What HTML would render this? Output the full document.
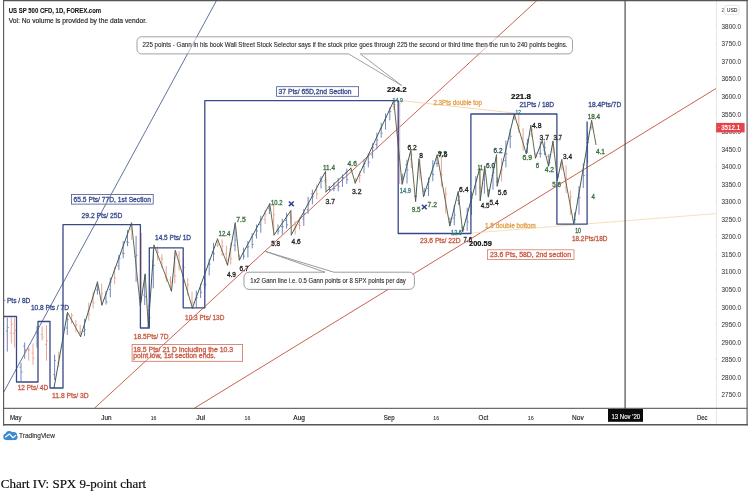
<!DOCTYPE html>
<html><head><meta charset="utf-8"><title>Chart IV: SPX 9-point chart</title>
<style>
html,body{margin:0;padding:0;background:#fff;}
body{width:750px;height:494px;overflow:hidden;font-family:"Liberation Sans",sans-serif;}
svg text{font-family:"Liberation Sans",sans-serif;}
svg{will-change:transform;transform:translateZ(0);}
</style></head>
<body>
<svg width="750" height="494" viewBox="0 0 750 494" style="display:block">
<rect x="0" y="0" width="750" height="494" fill="#ffffff"/>
<line x1="716.5" y1="1.0" x2="716.5" y2="424.0" stroke="#e6e6e6" stroke-width="1"/>
<line x1="3.5" y1="392.5" x2="216.8" y2="0.0" stroke="#425a8e" stroke-width="0.85"/>
<line x1="94.7" y1="408.0" x2="537.5" y2="0.0" stroke="#cb6250" stroke-width="1.0"/>
<line x1="194.7" y1="408.0" x2="716.0" y2="88.5" stroke="#cb6250" stroke-width="1.0"/>
<line x1="403.0" y1="100.8" x2="519.0" y2="113.6" stroke="#f1cfa0" stroke-width="0.8"/>
<line x1="466.0" y1="233.5" x2="716.0" y2="213.6" stroke="#f0d9a8" stroke-width="0.8"/>
<line x1="7.3" y1="317.8" x2="7.3" y2="351.6" stroke="#6478b6" stroke-width="0.9"/>
<line x1="5.8" y1="331.1" x2="7.3" y2="331.1" stroke="#6478b6" stroke-width="0.8"/>
<line x1="7.3" y1="327.6" x2="8.8" y2="327.6" stroke="#6478b6" stroke-width="0.8"/>
<line x1="11.3" y1="317.8" x2="11.3" y2="343.5" stroke="#e89c8a" stroke-width="0.9"/>
<line x1="9.8" y1="333.0" x2="11.3" y2="333.0" stroke="#e89c8a" stroke-width="0.8"/>
<line x1="11.3" y1="324.1" x2="12.8" y2="324.1" stroke="#e89c8a" stroke-width="0.8"/>
<line x1="14.4" y1="318.0" x2="14.4" y2="347.6" stroke="#e89c8a" stroke-width="0.9"/>
<line x1="12.9" y1="333.4" x2="14.4" y2="333.4" stroke="#e89c8a" stroke-width="0.8"/>
<line x1="14.4" y1="330.4" x2="15.9" y2="330.4" stroke="#e89c8a" stroke-width="0.8"/>
<line x1="21.0" y1="362.8" x2="21.0" y2="381.0" stroke="#6478b6" stroke-width="0.9"/>
<line x1="19.5" y1="367.1" x2="21.0" y2="367.1" stroke="#6478b6" stroke-width="0.8"/>
<line x1="21.0" y1="372.0" x2="22.5" y2="372.0" stroke="#6478b6" stroke-width="0.8"/>
<line x1="24.7" y1="342.5" x2="24.7" y2="358.7" stroke="#6478b6" stroke-width="0.9"/>
<line x1="23.2" y1="346.1" x2="24.7" y2="346.1" stroke="#6478b6" stroke-width="0.8"/>
<line x1="24.7" y1="350.0" x2="26.2" y2="350.0" stroke="#6478b6" stroke-width="0.8"/>
<line x1="28.7" y1="346.6" x2="28.7" y2="360.7" stroke="#e89c8a" stroke-width="0.9"/>
<line x1="27.2" y1="350.0" x2="28.7" y2="350.0" stroke="#e89c8a" stroke-width="0.8"/>
<line x1="28.7" y1="350.2" x2="30.2" y2="350.2" stroke="#e89c8a" stroke-width="0.8"/>
<line x1="33.0" y1="343.5" x2="33.0" y2="364.8" stroke="#e89c8a" stroke-width="0.9"/>
<line x1="31.5" y1="353.2" x2="33.0" y2="353.2" stroke="#e89c8a" stroke-width="0.8"/>
<line x1="33.0" y1="358.3" x2="34.5" y2="358.3" stroke="#e89c8a" stroke-width="0.8"/>
<line x1="37.0" y1="326.0" x2="37.0" y2="347.6" stroke="#6478b6" stroke-width="0.9"/>
<line x1="35.5" y1="331.9" x2="37.0" y2="331.9" stroke="#6478b6" stroke-width="0.8"/>
<line x1="37.0" y1="333.2" x2="38.5" y2="333.2" stroke="#6478b6" stroke-width="0.8"/>
<line x1="42.1" y1="326.3" x2="42.1" y2="340.5" stroke="#e89c8a" stroke-width="0.9"/>
<line x1="40.6" y1="334.5" x2="42.1" y2="334.5" stroke="#e89c8a" stroke-width="0.8"/>
<line x1="42.1" y1="337.2" x2="43.6" y2="337.2" stroke="#e89c8a" stroke-width="0.8"/>
<line x1="46.5" y1="325.3" x2="46.5" y2="360.7" stroke="#e89c8a" stroke-width="0.9"/>
<line x1="45.0" y1="344.6" x2="46.5" y2="344.6" stroke="#e89c8a" stroke-width="0.8"/>
<line x1="46.5" y1="340.8" x2="48.0" y2="340.8" stroke="#e89c8a" stroke-width="0.8"/>
<line x1="54.6" y1="354.6" x2="54.6" y2="380.0" stroke="#6478b6" stroke-width="0.9"/>
<line x1="53.1" y1="374.6" x2="54.6" y2="374.6" stroke="#6478b6" stroke-width="0.8"/>
<line x1="54.6" y1="360.4" x2="56.1" y2="360.4" stroke="#6478b6" stroke-width="0.8"/>
<line x1="58.7" y1="351.6" x2="58.7" y2="366.8" stroke="#e89c8a" stroke-width="0.9"/>
<line x1="57.2" y1="362.5" x2="58.7" y2="362.5" stroke="#e89c8a" stroke-width="0.8"/>
<line x1="58.7" y1="357.3" x2="60.2" y2="357.3" stroke="#e89c8a" stroke-width="0.8"/>
<line x1="67.3" y1="313.0" x2="67.3" y2="334.8" stroke="#6478b6" stroke-width="0.9"/>
<line x1="65.8" y1="328.0" x2="67.3" y2="328.0" stroke="#6478b6" stroke-width="0.8"/>
<line x1="67.3" y1="319.7" x2="68.8" y2="319.7" stroke="#6478b6" stroke-width="0.8"/>
<line x1="71.6" y1="313.0" x2="71.6" y2="323.5" stroke="#e89c8a" stroke-width="0.9"/>
<line x1="70.1" y1="318.6" x2="71.6" y2="318.6" stroke="#e89c8a" stroke-width="0.8"/>
<line x1="71.6" y1="315.5" x2="73.1" y2="315.5" stroke="#e89c8a" stroke-width="0.8"/>
<line x1="75.9" y1="320.1" x2="75.9" y2="332.3" stroke="#e89c8a" stroke-width="0.9"/>
<line x1="74.4" y1="325.7" x2="75.9" y2="325.7" stroke="#e89c8a" stroke-width="0.8"/>
<line x1="75.9" y1="324.9" x2="77.4" y2="324.9" stroke="#e89c8a" stroke-width="0.8"/>
<line x1="80.2" y1="325.0" x2="80.2" y2="336.1" stroke="#e89c8a" stroke-width="0.9"/>
<line x1="78.7" y1="332.5" x2="80.2" y2="332.5" stroke="#e89c8a" stroke-width="0.8"/>
<line x1="80.2" y1="331.9" x2="81.7" y2="331.9" stroke="#e89c8a" stroke-width="0.8"/>
<line x1="84.5" y1="318.9" x2="84.5" y2="336.1" stroke="#6478b6" stroke-width="0.9"/>
<line x1="83.0" y1="331.4" x2="84.5" y2="331.4" stroke="#6478b6" stroke-width="0.8"/>
<line x1="84.5" y1="329.9" x2="86.0" y2="329.9" stroke="#6478b6" stroke-width="0.8"/>
<line x1="88.8" y1="302.7" x2="88.8" y2="320.6" stroke="#e89c8a" stroke-width="0.9"/>
<line x1="87.3" y1="310.8" x2="88.8" y2="310.8" stroke="#e89c8a" stroke-width="0.8"/>
<line x1="88.8" y1="314.4" x2="90.3" y2="314.4" stroke="#e89c8a" stroke-width="0.8"/>
<line x1="93.1" y1="291.7" x2="93.1" y2="308.6" stroke="#e89c8a" stroke-width="0.9"/>
<line x1="91.6" y1="301.8" x2="93.1" y2="301.8" stroke="#e89c8a" stroke-width="0.8"/>
<line x1="93.1" y1="302.8" x2="94.6" y2="302.8" stroke="#e89c8a" stroke-width="0.8"/>
<line x1="97.4" y1="282.5" x2="97.4" y2="294.7" stroke="#6478b6" stroke-width="0.9"/>
<line x1="95.9" y1="290.0" x2="97.4" y2="290.0" stroke="#6478b6" stroke-width="0.8"/>
<line x1="97.4" y1="289.3" x2="98.9" y2="289.3" stroke="#6478b6" stroke-width="0.8"/>
<line x1="101.7" y1="283.6" x2="101.7" y2="304.5" stroke="#e89c8a" stroke-width="0.9"/>
<line x1="100.2" y1="299.6" x2="101.7" y2="299.6" stroke="#e89c8a" stroke-width="0.8"/>
<line x1="101.7" y1="293.7" x2="103.2" y2="293.7" stroke="#e89c8a" stroke-width="0.8"/>
<line x1="106.0" y1="291.1" x2="106.0" y2="304.5" stroke="#6478b6" stroke-width="0.9"/>
<line x1="104.5" y1="299.0" x2="106.0" y2="299.0" stroke="#6478b6" stroke-width="0.8"/>
<line x1="106.0" y1="301.8" x2="107.5" y2="301.8" stroke="#6478b6" stroke-width="0.8"/>
<line x1="110.3" y1="277.7" x2="110.3" y2="297.4" stroke="#6478b6" stroke-width="0.9"/>
<line x1="108.8" y1="289.5" x2="110.3" y2="289.5" stroke="#6478b6" stroke-width="0.8"/>
<line x1="110.3" y1="281.9" x2="111.8" y2="281.9" stroke="#6478b6" stroke-width="0.8"/>
<line x1="114.6" y1="266.9" x2="114.6" y2="284.2" stroke="#e89c8a" stroke-width="0.9"/>
<line x1="113.1" y1="270.9" x2="114.6" y2="270.9" stroke="#e89c8a" stroke-width="0.8"/>
<line x1="114.6" y1="278.3" x2="116.1" y2="278.3" stroke="#e89c8a" stroke-width="0.8"/>
<line x1="118.9" y1="255.0" x2="118.9" y2="270.1" stroke="#6478b6" stroke-width="0.9"/>
<line x1="117.4" y1="265.9" x2="118.9" y2="265.9" stroke="#6478b6" stroke-width="0.8"/>
<line x1="118.9" y1="258.7" x2="120.4" y2="258.7" stroke="#6478b6" stroke-width="0.8"/>
<line x1="123.2" y1="241.1" x2="123.2" y2="258.3" stroke="#6478b6" stroke-width="0.9"/>
<line x1="121.7" y1="253.0" x2="123.2" y2="253.0" stroke="#6478b6" stroke-width="0.8"/>
<line x1="123.2" y1="253.5" x2="124.7" y2="253.5" stroke="#6478b6" stroke-width="0.8"/>
<line x1="127.5" y1="230.1" x2="127.5" y2="246.2" stroke="#6478b6" stroke-width="0.9"/>
<line x1="126.0" y1="241.9" x2="127.5" y2="241.9" stroke="#6478b6" stroke-width="0.8"/>
<line x1="127.5" y1="242.6" x2="129.0" y2="242.6" stroke="#6478b6" stroke-width="0.8"/>
<line x1="131.8" y1="223.5" x2="131.8" y2="239.9" stroke="#e89c8a" stroke-width="0.9"/>
<line x1="130.3" y1="229.1" x2="131.8" y2="229.1" stroke="#e89c8a" stroke-width="0.8"/>
<line x1="131.8" y1="231.6" x2="133.3" y2="231.6" stroke="#e89c8a" stroke-width="0.8"/>
<line x1="136.1" y1="235.9" x2="136.1" y2="281.8" stroke="#6478b6" stroke-width="0.9"/>
<line x1="134.6" y1="256.6" x2="136.1" y2="256.6" stroke="#6478b6" stroke-width="0.8"/>
<line x1="136.1" y1="255.2" x2="137.6" y2="255.2" stroke="#6478b6" stroke-width="0.8"/>
<line x1="140.4" y1="291.4" x2="140.4" y2="305.0" stroke="#6478b6" stroke-width="0.9"/>
<line x1="138.9" y1="298.3" x2="140.4" y2="298.3" stroke="#6478b6" stroke-width="0.8"/>
<line x1="140.4" y1="299.2" x2="141.9" y2="299.2" stroke="#6478b6" stroke-width="0.8"/>
<line x1="144.7" y1="274.7" x2="144.7" y2="305.0" stroke="#6478b6" stroke-width="0.9"/>
<line x1="143.2" y1="294.9" x2="144.7" y2="294.9" stroke="#6478b6" stroke-width="0.8"/>
<line x1="144.7" y1="296.7" x2="146.2" y2="296.7" stroke="#6478b6" stroke-width="0.8"/>
<line x1="149.0" y1="304.7" x2="149.0" y2="326.5" stroke="#6478b6" stroke-width="0.9"/>
<line x1="147.5" y1="310.4" x2="149.0" y2="310.4" stroke="#6478b6" stroke-width="0.8"/>
<line x1="149.0" y1="317.4" x2="150.5" y2="317.4" stroke="#6478b6" stroke-width="0.8"/>
<line x1="153.3" y1="249.8" x2="153.3" y2="288.3" stroke="#6478b6" stroke-width="0.9"/>
<line x1="151.8" y1="261.3" x2="153.3" y2="261.3" stroke="#6478b6" stroke-width="0.8"/>
<line x1="153.3" y1="265.4" x2="154.8" y2="265.4" stroke="#6478b6" stroke-width="0.8"/>
<line x1="157.6" y1="246.5" x2="157.6" y2="260.5" stroke="#e89c8a" stroke-width="0.9"/>
<line x1="156.1" y1="250.1" x2="157.6" y2="250.1" stroke="#e89c8a" stroke-width="0.8"/>
<line x1="157.6" y1="252.3" x2="159.1" y2="252.3" stroke="#e89c8a" stroke-width="0.8"/>
<line x1="161.9" y1="254.2" x2="161.9" y2="268.1" stroke="#e89c8a" stroke-width="0.9"/>
<line x1="160.4" y1="258.2" x2="161.9" y2="258.2" stroke="#e89c8a" stroke-width="0.8"/>
<line x1="161.9" y1="259.1" x2="163.4" y2="259.1" stroke="#e89c8a" stroke-width="0.8"/>
<line x1="166.2" y1="266.1" x2="166.2" y2="282.1" stroke="#e89c8a" stroke-width="0.9"/>
<line x1="164.7" y1="277.4" x2="166.2" y2="277.4" stroke="#e89c8a" stroke-width="0.8"/>
<line x1="166.2" y1="278.8" x2="167.7" y2="278.8" stroke="#e89c8a" stroke-width="0.8"/>
<line x1="170.5" y1="276.3" x2="170.5" y2="290.5" stroke="#e89c8a" stroke-width="0.9"/>
<line x1="169.0" y1="280.0" x2="170.5" y2="280.0" stroke="#e89c8a" stroke-width="0.8"/>
<line x1="170.5" y1="282.0" x2="172.0" y2="282.0" stroke="#e89c8a" stroke-width="0.8"/>
<line x1="174.8" y1="251.0" x2="174.8" y2="283.3" stroke="#e89c8a" stroke-width="0.9"/>
<line x1="173.3" y1="257.9" x2="174.8" y2="257.9" stroke="#e89c8a" stroke-width="0.8"/>
<line x1="174.8" y1="275.9" x2="176.3" y2="275.9" stroke="#e89c8a" stroke-width="0.8"/>
<line x1="179.1" y1="251.0" x2="179.1" y2="270.6" stroke="#e89c8a" stroke-width="0.9"/>
<line x1="177.6" y1="255.2" x2="179.1" y2="255.2" stroke="#e89c8a" stroke-width="0.8"/>
<line x1="179.1" y1="261.1" x2="180.6" y2="261.1" stroke="#e89c8a" stroke-width="0.8"/>
<line x1="183.4" y1="257.7" x2="183.4" y2="281.4" stroke="#e89c8a" stroke-width="0.9"/>
<line x1="181.9" y1="266.1" x2="183.4" y2="266.1" stroke="#e89c8a" stroke-width="0.8"/>
<line x1="183.4" y1="267.6" x2="184.9" y2="267.6" stroke="#e89c8a" stroke-width="0.8"/>
<line x1="187.7" y1="277.9" x2="187.7" y2="295.4" stroke="#e89c8a" stroke-width="0.9"/>
<line x1="186.2" y1="289.6" x2="187.7" y2="289.6" stroke="#e89c8a" stroke-width="0.8"/>
<line x1="187.7" y1="284.9" x2="189.2" y2="284.9" stroke="#e89c8a" stroke-width="0.8"/>
<line x1="192.0" y1="291.9" x2="192.0" y2="307.5" stroke="#e89c8a" stroke-width="0.9"/>
<line x1="190.5" y1="303.0" x2="192.0" y2="303.0" stroke="#e89c8a" stroke-width="0.8"/>
<line x1="192.0" y1="302.6" x2="193.5" y2="302.6" stroke="#e89c8a" stroke-width="0.8"/>
<line x1="196.3" y1="290.6" x2="196.3" y2="307.5" stroke="#6478b6" stroke-width="0.9"/>
<line x1="194.8" y1="299.2" x2="196.3" y2="299.2" stroke="#6478b6" stroke-width="0.8"/>
<line x1="196.3" y1="297.6" x2="197.8" y2="297.6" stroke="#6478b6" stroke-width="0.8"/>
<line x1="200.6" y1="283.6" x2="200.6" y2="298.0" stroke="#6478b6" stroke-width="0.9"/>
<line x1="199.1" y1="288.7" x2="200.6" y2="288.7" stroke="#6478b6" stroke-width="0.8"/>
<line x1="200.6" y1="292.4" x2="202.1" y2="292.4" stroke="#6478b6" stroke-width="0.8"/>
<line x1="204.9" y1="268.4" x2="204.9" y2="288.9" stroke="#6478b6" stroke-width="0.9"/>
<line x1="203.4" y1="284.7" x2="204.9" y2="284.7" stroke="#6478b6" stroke-width="0.8"/>
<line x1="204.9" y1="284.3" x2="206.4" y2="284.3" stroke="#6478b6" stroke-width="0.8"/>
<line x1="209.2" y1="258.7" x2="209.2" y2="275.3" stroke="#6478b6" stroke-width="0.9"/>
<line x1="207.7" y1="264.0" x2="209.2" y2="264.0" stroke="#6478b6" stroke-width="0.8"/>
<line x1="209.2" y1="264.1" x2="210.7" y2="264.1" stroke="#6478b6" stroke-width="0.8"/>
<line x1="213.5" y1="242.9" x2="213.5" y2="261.2" stroke="#6478b6" stroke-width="0.9"/>
<line x1="212.0" y1="251.8" x2="213.5" y2="251.8" stroke="#6478b6" stroke-width="0.8"/>
<line x1="213.5" y1="253.7" x2="215.0" y2="253.7" stroke="#6478b6" stroke-width="0.8"/>
<line x1="217.8" y1="239.5" x2="217.8" y2="247.1" stroke="#e89c8a" stroke-width="0.9"/>
<line x1="216.3" y1="245.2" x2="217.8" y2="245.2" stroke="#e89c8a" stroke-width="0.8"/>
<line x1="217.8" y1="244.6" x2="219.3" y2="244.6" stroke="#e89c8a" stroke-width="0.8"/>
<line x1="222.1" y1="239.5" x2="222.1" y2="255.9" stroke="#e89c8a" stroke-width="0.9"/>
<line x1="220.6" y1="250.6" x2="222.1" y2="250.6" stroke="#e89c8a" stroke-width="0.8"/>
<line x1="222.1" y1="246.1" x2="223.6" y2="246.1" stroke="#e89c8a" stroke-width="0.8"/>
<line x1="226.4" y1="245.6" x2="226.4" y2="264.3" stroke="#e89c8a" stroke-width="0.9"/>
<line x1="224.9" y1="253.9" x2="226.4" y2="253.9" stroke="#e89c8a" stroke-width="0.8"/>
<line x1="226.4" y1="260.0" x2="227.9" y2="260.0" stroke="#e89c8a" stroke-width="0.8"/>
<line x1="230.7" y1="242.8" x2="230.7" y2="264.5" stroke="#e89c8a" stroke-width="0.9"/>
<line x1="229.2" y1="249.1" x2="230.7" y2="249.1" stroke="#e89c8a" stroke-width="0.8"/>
<line x1="230.7" y1="258.9" x2="232.2" y2="258.9" stroke="#e89c8a" stroke-width="0.8"/>
<line x1="235.0" y1="223.5" x2="235.0" y2="251.2" stroke="#6478b6" stroke-width="0.9"/>
<line x1="233.5" y1="245.3" x2="235.0" y2="245.3" stroke="#6478b6" stroke-width="0.8"/>
<line x1="235.0" y1="240.0" x2="236.5" y2="240.0" stroke="#6478b6" stroke-width="0.8"/>
<line x1="239.3" y1="254.8" x2="239.3" y2="260.0" stroke="#e89c8a" stroke-width="0.9"/>
<line x1="237.8" y1="255.9" x2="239.3" y2="255.9" stroke="#e89c8a" stroke-width="0.8"/>
<line x1="239.3" y1="258.9" x2="240.8" y2="258.9" stroke="#e89c8a" stroke-width="0.8"/>
<line x1="243.6" y1="247.7" x2="243.6" y2="259.5" stroke="#6478b6" stroke-width="0.9"/>
<line x1="242.1" y1="253.2" x2="243.6" y2="253.2" stroke="#6478b6" stroke-width="0.8"/>
<line x1="243.6" y1="256.2" x2="245.1" y2="256.2" stroke="#6478b6" stroke-width="0.8"/>
<line x1="247.9" y1="241.1" x2="247.9" y2="257.6" stroke="#6478b6" stroke-width="0.9"/>
<line x1="246.4" y1="247.3" x2="247.9" y2="247.3" stroke="#6478b6" stroke-width="0.8"/>
<line x1="247.9" y1="246.8" x2="249.4" y2="246.8" stroke="#6478b6" stroke-width="0.8"/>
<line x1="252.2" y1="233.2" x2="252.2" y2="248.4" stroke="#6478b6" stroke-width="0.9"/>
<line x1="250.7" y1="237.4" x2="252.2" y2="237.4" stroke="#6478b6" stroke-width="0.8"/>
<line x1="252.2" y1="244.5" x2="253.7" y2="244.5" stroke="#6478b6" stroke-width="0.8"/>
<line x1="256.5" y1="224.7" x2="256.5" y2="238.6" stroke="#6478b6" stroke-width="0.9"/>
<line x1="255.0" y1="235.0" x2="256.5" y2="235.0" stroke="#6478b6" stroke-width="0.8"/>
<line x1="256.5" y1="231.0" x2="258.0" y2="231.0" stroke="#6478b6" stroke-width="0.8"/>
<line x1="260.8" y1="215.7" x2="260.8" y2="232.7" stroke="#6478b6" stroke-width="0.9"/>
<line x1="259.3" y1="224.5" x2="260.8" y2="224.5" stroke="#6478b6" stroke-width="0.8"/>
<line x1="260.8" y1="219.3" x2="262.3" y2="219.3" stroke="#6478b6" stroke-width="0.8"/>
<line x1="265.1" y1="209.9" x2="265.1" y2="224.2" stroke="#e89c8a" stroke-width="0.9"/>
<line x1="263.6" y1="219.6" x2="265.1" y2="219.6" stroke="#e89c8a" stroke-width="0.8"/>
<line x1="265.1" y1="214.2" x2="266.6" y2="214.2" stroke="#e89c8a" stroke-width="0.8"/>
<line x1="269.4" y1="204.2" x2="269.4" y2="214.1" stroke="#6478b6" stroke-width="0.9"/>
<line x1="267.9" y1="208.1" x2="269.4" y2="208.1" stroke="#6478b6" stroke-width="0.8"/>
<line x1="269.4" y1="209.2" x2="270.9" y2="209.2" stroke="#6478b6" stroke-width="0.8"/>
<line x1="273.7" y1="204.2" x2="273.7" y2="234.4" stroke="#e89c8a" stroke-width="0.9"/>
<line x1="272.2" y1="220.4" x2="273.7" y2="220.4" stroke="#e89c8a" stroke-width="0.8"/>
<line x1="273.7" y1="214.7" x2="275.2" y2="214.7" stroke="#e89c8a" stroke-width="0.8"/>
<line x1="278.0" y1="224.5" x2="278.0" y2="234.4" stroke="#6478b6" stroke-width="0.9"/>
<line x1="276.5" y1="229.8" x2="278.0" y2="229.8" stroke="#6478b6" stroke-width="0.8"/>
<line x1="278.0" y1="231.0" x2="279.5" y2="231.0" stroke="#6478b6" stroke-width="0.8"/>
<line x1="282.3" y1="218.8" x2="282.3" y2="234.4" stroke="#6478b6" stroke-width="0.9"/>
<line x1="280.8" y1="226.6" x2="282.3" y2="226.6" stroke="#6478b6" stroke-width="0.8"/>
<line x1="282.3" y1="226.7" x2="283.8" y2="226.7" stroke="#6478b6" stroke-width="0.8"/>
<line x1="286.6" y1="212.8" x2="286.6" y2="228.6" stroke="#6478b6" stroke-width="0.9"/>
<line x1="285.1" y1="220.5" x2="286.6" y2="220.5" stroke="#6478b6" stroke-width="0.8"/>
<line x1="286.6" y1="224.9" x2="288.1" y2="224.9" stroke="#6478b6" stroke-width="0.8"/>
<line x1="290.9" y1="211.3" x2="290.9" y2="223.4" stroke="#e89c8a" stroke-width="0.9"/>
<line x1="289.4" y1="215.6" x2="290.9" y2="215.6" stroke="#e89c8a" stroke-width="0.8"/>
<line x1="290.9" y1="217.8" x2="292.4" y2="217.8" stroke="#e89c8a" stroke-width="0.8"/>
<line x1="295.2" y1="221.3" x2="295.2" y2="234.4" stroke="#e89c8a" stroke-width="0.9"/>
<line x1="293.7" y1="224.9" x2="295.2" y2="224.9" stroke="#e89c8a" stroke-width="0.8"/>
<line x1="295.2" y1="227.4" x2="296.7" y2="227.4" stroke="#e89c8a" stroke-width="0.8"/>
<line x1="299.5" y1="217.3" x2="299.5" y2="229.6" stroke="#e89c8a" stroke-width="0.9"/>
<line x1="298.0" y1="224.7" x2="299.5" y2="224.7" stroke="#e89c8a" stroke-width="0.8"/>
<line x1="299.5" y1="225.6" x2="301.0" y2="225.6" stroke="#e89c8a" stroke-width="0.8"/>
<line x1="303.8" y1="208.9" x2="303.8" y2="225.8" stroke="#6478b6" stroke-width="0.9"/>
<line x1="302.3" y1="219.0" x2="303.8" y2="219.0" stroke="#6478b6" stroke-width="0.8"/>
<line x1="303.8" y1="213.7" x2="305.3" y2="213.7" stroke="#6478b6" stroke-width="0.8"/>
<line x1="308.1" y1="196.8" x2="308.1" y2="213.7" stroke="#6478b6" stroke-width="0.9"/>
<line x1="306.6" y1="209.8" x2="308.1" y2="209.8" stroke="#6478b6" stroke-width="0.8"/>
<line x1="308.1" y1="204.2" x2="309.6" y2="204.2" stroke="#6478b6" stroke-width="0.8"/>
<line x1="312.4" y1="189.7" x2="312.4" y2="204.3" stroke="#6478b6" stroke-width="0.9"/>
<line x1="310.9" y1="194.0" x2="312.4" y2="194.0" stroke="#6478b6" stroke-width="0.8"/>
<line x1="312.4" y1="196.4" x2="313.9" y2="196.4" stroke="#6478b6" stroke-width="0.8"/>
<line x1="316.7" y1="184.5" x2="316.7" y2="199.3" stroke="#e89c8a" stroke-width="0.9"/>
<line x1="315.2" y1="190.3" x2="316.7" y2="190.3" stroke="#e89c8a" stroke-width="0.8"/>
<line x1="316.7" y1="193.9" x2="318.2" y2="193.9" stroke="#e89c8a" stroke-width="0.8"/>
<line x1="321.0" y1="176.4" x2="321.0" y2="188.4" stroke="#6478b6" stroke-width="0.9"/>
<line x1="319.5" y1="178.9" x2="321.0" y2="178.9" stroke="#6478b6" stroke-width="0.8"/>
<line x1="321.0" y1="181.2" x2="322.5" y2="181.2" stroke="#6478b6" stroke-width="0.8"/>
<line x1="325.3" y1="172.0" x2="325.3" y2="183.1" stroke="#e89c8a" stroke-width="0.9"/>
<line x1="323.8" y1="180.7" x2="325.3" y2="180.7" stroke="#e89c8a" stroke-width="0.8"/>
<line x1="325.3" y1="179.4" x2="326.8" y2="179.4" stroke="#e89c8a" stroke-width="0.8"/>
<line x1="329.6" y1="185.8" x2="329.6" y2="191.3" stroke="#6478b6" stroke-width="0.9"/>
<line x1="328.1" y1="187.0" x2="329.6" y2="187.0" stroke="#6478b6" stroke-width="0.8"/>
<line x1="329.6" y1="189.5" x2="331.1" y2="189.5" stroke="#6478b6" stroke-width="0.8"/>
<line x1="333.9" y1="182.2" x2="333.9" y2="191.3" stroke="#6478b6" stroke-width="0.9"/>
<line x1="332.4" y1="189.0" x2="333.9" y2="189.0" stroke="#6478b6" stroke-width="0.8"/>
<line x1="333.9" y1="188.5" x2="335.4" y2="188.5" stroke="#6478b6" stroke-width="0.8"/>
<line x1="338.2" y1="178.0" x2="338.2" y2="191.3" stroke="#6478b6" stroke-width="0.9"/>
<line x1="336.7" y1="185.2" x2="338.2" y2="185.2" stroke="#6478b6" stroke-width="0.8"/>
<line x1="338.2" y1="186.3" x2="339.7" y2="186.3" stroke="#6478b6" stroke-width="0.8"/>
<line x1="342.5" y1="174.5" x2="342.5" y2="186.9" stroke="#6478b6" stroke-width="0.9"/>
<line x1="341.0" y1="180.1" x2="342.5" y2="180.1" stroke="#6478b6" stroke-width="0.8"/>
<line x1="342.5" y1="177.5" x2="344.0" y2="177.5" stroke="#6478b6" stroke-width="0.8"/>
<line x1="346.8" y1="168.7" x2="346.8" y2="183.9" stroke="#6478b6" stroke-width="0.9"/>
<line x1="345.3" y1="172.5" x2="346.8" y2="172.5" stroke="#6478b6" stroke-width="0.8"/>
<line x1="346.8" y1="179.6" x2="348.3" y2="179.6" stroke="#6478b6" stroke-width="0.8"/>
<line x1="351.1" y1="168.2" x2="351.1" y2="173.2" stroke="#e89c8a" stroke-width="0.9"/>
<line x1="349.6" y1="170.2" x2="351.1" y2="170.2" stroke="#e89c8a" stroke-width="0.8"/>
<line x1="351.1" y1="170.8" x2="352.6" y2="170.8" stroke="#e89c8a" stroke-width="0.8"/>
<line x1="355.4" y1="177.8" x2="355.4" y2="183.0" stroke="#e89c8a" stroke-width="0.9"/>
<line x1="353.9" y1="180.5" x2="355.4" y2="180.5" stroke="#e89c8a" stroke-width="0.8"/>
<line x1="355.4" y1="179.6" x2="356.9" y2="179.6" stroke="#e89c8a" stroke-width="0.8"/>
<line x1="359.7" y1="171.3" x2="359.7" y2="182.5" stroke="#e89c8a" stroke-width="0.9"/>
<line x1="358.2" y1="174.9" x2="359.7" y2="174.9" stroke="#e89c8a" stroke-width="0.8"/>
<line x1="359.7" y1="175.6" x2="361.2" y2="175.6" stroke="#e89c8a" stroke-width="0.8"/>
<line x1="364.0" y1="159.4" x2="364.0" y2="173.3" stroke="#6478b6" stroke-width="0.9"/>
<line x1="362.5" y1="166.4" x2="364.0" y2="166.4" stroke="#6478b6" stroke-width="0.8"/>
<line x1="364.0" y1="163.7" x2="365.5" y2="163.7" stroke="#6478b6" stroke-width="0.8"/>
<line x1="368.3" y1="153.3" x2="368.3" y2="167.4" stroke="#6478b6" stroke-width="0.9"/>
<line x1="366.8" y1="156.3" x2="368.3" y2="156.3" stroke="#6478b6" stroke-width="0.8"/>
<line x1="368.3" y1="162.3" x2="369.8" y2="162.3" stroke="#6478b6" stroke-width="0.8"/>
<line x1="372.6" y1="143.3" x2="372.6" y2="158.5" stroke="#6478b6" stroke-width="0.9"/>
<line x1="371.1" y1="154.8" x2="372.6" y2="154.8" stroke="#6478b6" stroke-width="0.8"/>
<line x1="372.6" y1="147.3" x2="374.1" y2="147.3" stroke="#6478b6" stroke-width="0.8"/>
<line x1="376.9" y1="132.6" x2="376.9" y2="149.4" stroke="#6478b6" stroke-width="0.9"/>
<line x1="375.4" y1="144.4" x2="376.9" y2="144.4" stroke="#6478b6" stroke-width="0.8"/>
<line x1="376.9" y1="139.9" x2="378.4" y2="139.9" stroke="#6478b6" stroke-width="0.8"/>
<line x1="381.2" y1="122.7" x2="381.2" y2="137.7" stroke="#6478b6" stroke-width="0.9"/>
<line x1="379.7" y1="128.8" x2="381.2" y2="128.8" stroke="#6478b6" stroke-width="0.8"/>
<line x1="381.2" y1="133.2" x2="382.7" y2="133.2" stroke="#6478b6" stroke-width="0.8"/>
<line x1="385.5" y1="113.5" x2="385.5" y2="129.6" stroke="#6478b6" stroke-width="0.9"/>
<line x1="384.0" y1="120.1" x2="385.5" y2="120.1" stroke="#6478b6" stroke-width="0.8"/>
<line x1="385.5" y1="117.2" x2="387.0" y2="117.2" stroke="#6478b6" stroke-width="0.8"/>
<line x1="389.8" y1="107.5" x2="389.8" y2="120.3" stroke="#6478b6" stroke-width="0.9"/>
<line x1="388.3" y1="112.0" x2="389.8" y2="112.0" stroke="#6478b6" stroke-width="0.8"/>
<line x1="389.8" y1="111.3" x2="391.3" y2="111.3" stroke="#6478b6" stroke-width="0.8"/>
<line x1="394.1" y1="101.3" x2="394.1" y2="110.3" stroke="#e89c8a" stroke-width="0.9"/>
<line x1="392.6" y1="106.7" x2="394.1" y2="106.7" stroke="#e89c8a" stroke-width="0.8"/>
<line x1="394.1" y1="104.6" x2="395.6" y2="104.6" stroke="#e89c8a" stroke-width="0.8"/>
<line x1="398.4" y1="119.1" x2="398.4" y2="160.7" stroke="#e89c8a" stroke-width="0.9"/>
<line x1="396.9" y1="131.4" x2="398.4" y2="131.4" stroke="#e89c8a" stroke-width="0.8"/>
<line x1="398.4" y1="138.6" x2="399.9" y2="138.6" stroke="#e89c8a" stroke-width="0.8"/>
<line x1="402.7" y1="173.6" x2="402.7" y2="183.5" stroke="#6478b6" stroke-width="0.9"/>
<line x1="401.2" y1="178.8" x2="402.7" y2="178.8" stroke="#6478b6" stroke-width="0.8"/>
<line x1="402.7" y1="177.0" x2="404.2" y2="177.0" stroke="#6478b6" stroke-width="0.8"/>
<line x1="407.0" y1="159.7" x2="407.0" y2="183.5" stroke="#6478b6" stroke-width="0.9"/>
<line x1="405.5" y1="164.5" x2="407.0" y2="164.5" stroke="#6478b6" stroke-width="0.8"/>
<line x1="407.0" y1="169.9" x2="408.5" y2="169.9" stroke="#6478b6" stroke-width="0.8"/>
<line x1="411.3" y1="151.1" x2="411.3" y2="168.2" stroke="#e89c8a" stroke-width="0.9"/>
<line x1="409.8" y1="159.7" x2="411.3" y2="159.7" stroke="#e89c8a" stroke-width="0.8"/>
<line x1="411.3" y1="154.6" x2="412.8" y2="154.6" stroke="#e89c8a" stroke-width="0.8"/>
<line x1="415.6" y1="195.0" x2="415.6" y2="200.7" stroke="#6478b6" stroke-width="0.9"/>
<line x1="414.1" y1="196.3" x2="415.6" y2="196.3" stroke="#6478b6" stroke-width="0.8"/>
<line x1="415.6" y1="196.2" x2="417.1" y2="196.2" stroke="#6478b6" stroke-width="0.8"/>
<line x1="419.9" y1="159.5" x2="419.9" y2="179.5" stroke="#e89c8a" stroke-width="0.9"/>
<line x1="418.4" y1="169.9" x2="419.9" y2="169.9" stroke="#e89c8a" stroke-width="0.8"/>
<line x1="419.9" y1="172.5" x2="421.4" y2="172.5" stroke="#e89c8a" stroke-width="0.8"/>
<line x1="424.2" y1="187.8" x2="424.2" y2="196.0" stroke="#6478b6" stroke-width="0.9"/>
<line x1="422.7" y1="191.3" x2="424.2" y2="191.3" stroke="#6478b6" stroke-width="0.8"/>
<line x1="424.2" y1="191.0" x2="425.7" y2="191.0" stroke="#6478b6" stroke-width="0.8"/>
<line x1="428.5" y1="177.7" x2="428.5" y2="196.0" stroke="#6478b6" stroke-width="0.9"/>
<line x1="427.0" y1="188.4" x2="428.5" y2="188.4" stroke="#6478b6" stroke-width="0.8"/>
<line x1="428.5" y1="181.9" x2="430.0" y2="181.9" stroke="#6478b6" stroke-width="0.8"/>
<line x1="432.8" y1="160.2" x2="432.8" y2="181.2" stroke="#6478b6" stroke-width="0.9"/>
<line x1="431.3" y1="173.6" x2="432.8" y2="173.6" stroke="#6478b6" stroke-width="0.8"/>
<line x1="432.8" y1="174.6" x2="434.3" y2="174.6" stroke="#6478b6" stroke-width="0.8"/>
<line x1="437.1" y1="155.5" x2="437.1" y2="166.9" stroke="#6478b6" stroke-width="0.9"/>
<line x1="435.6" y1="163.5" x2="437.1" y2="163.5" stroke="#6478b6" stroke-width="0.8"/>
<line x1="437.1" y1="163.3" x2="438.6" y2="163.3" stroke="#6478b6" stroke-width="0.8"/>
<line x1="441.4" y1="155.5" x2="441.4" y2="186.6" stroke="#e89c8a" stroke-width="0.9"/>
<line x1="439.9" y1="174.5" x2="441.4" y2="174.5" stroke="#e89c8a" stroke-width="0.8"/>
<line x1="441.4" y1="174.7" x2="442.9" y2="174.7" stroke="#e89c8a" stroke-width="0.8"/>
<line x1="445.7" y1="187.4" x2="445.7" y2="213.5" stroke="#e89c8a" stroke-width="0.9"/>
<line x1="444.2" y1="198.2" x2="445.7" y2="198.2" stroke="#e89c8a" stroke-width="0.8"/>
<line x1="445.7" y1="194.2" x2="447.2" y2="194.2" stroke="#e89c8a" stroke-width="0.8"/>
<line x1="450.0" y1="217.6" x2="450.0" y2="225.3" stroke="#6478b6" stroke-width="0.9"/>
<line x1="448.5" y1="222.0" x2="450.0" y2="222.0" stroke="#6478b6" stroke-width="0.8"/>
<line x1="450.0" y1="222.3" x2="451.5" y2="222.3" stroke="#6478b6" stroke-width="0.8"/>
<line x1="454.3" y1="204.7" x2="454.3" y2="225.3" stroke="#6478b6" stroke-width="0.9"/>
<line x1="452.8" y1="218.1" x2="454.3" y2="218.1" stroke="#6478b6" stroke-width="0.8"/>
<line x1="454.3" y1="215.0" x2="455.8" y2="215.0" stroke="#6478b6" stroke-width="0.8"/>
<line x1="458.6" y1="192.1" x2="458.6" y2="204.9" stroke="#6478b6" stroke-width="0.9"/>
<line x1="457.1" y1="200.3" x2="458.6" y2="200.3" stroke="#6478b6" stroke-width="0.8"/>
<line x1="458.6" y1="196.6" x2="460.1" y2="196.6" stroke="#6478b6" stroke-width="0.8"/>
<line x1="462.9" y1="225.9" x2="462.9" y2="231.5" stroke="#6478b6" stroke-width="0.9"/>
<line x1="461.4" y1="227.7" x2="462.9" y2="227.7" stroke="#6478b6" stroke-width="0.8"/>
<line x1="462.9" y1="229.5" x2="464.4" y2="229.5" stroke="#6478b6" stroke-width="0.8"/>
<line x1="467.2" y1="207.7" x2="467.2" y2="231.0" stroke="#6478b6" stroke-width="0.9"/>
<line x1="465.7" y1="219.1" x2="467.2" y2="219.1" stroke="#6478b6" stroke-width="0.8"/>
<line x1="467.2" y1="221.9" x2="468.7" y2="221.9" stroke="#6478b6" stroke-width="0.8"/>
<line x1="471.5" y1="191.4" x2="471.5" y2="214.9" stroke="#6478b6" stroke-width="0.9"/>
<line x1="470.0" y1="197.2" x2="471.5" y2="197.2" stroke="#6478b6" stroke-width="0.8"/>
<line x1="471.5" y1="198.2" x2="473.0" y2="198.2" stroke="#6478b6" stroke-width="0.8"/>
<line x1="475.8" y1="176.1" x2="475.8" y2="195.4" stroke="#6478b6" stroke-width="0.9"/>
<line x1="474.3" y1="186.5" x2="475.8" y2="186.5" stroke="#6478b6" stroke-width="0.8"/>
<line x1="475.8" y1="180.1" x2="477.3" y2="180.1" stroke="#6478b6" stroke-width="0.8"/>
<line x1="480.1" y1="168.8" x2="480.1" y2="200.0" stroke="#e89c8a" stroke-width="0.9"/>
<line x1="478.6" y1="188.0" x2="480.1" y2="188.0" stroke="#e89c8a" stroke-width="0.8"/>
<line x1="480.1" y1="187.7" x2="481.6" y2="187.7" stroke="#e89c8a" stroke-width="0.8"/>
<line x1="484.4" y1="166.8" x2="484.4" y2="193.6" stroke="#6478b6" stroke-width="0.9"/>
<line x1="482.9" y1="179.7" x2="484.4" y2="179.7" stroke="#6478b6" stroke-width="0.8"/>
<line x1="484.4" y1="174.1" x2="485.9" y2="174.1" stroke="#6478b6" stroke-width="0.8"/>
<line x1="488.7" y1="189.2" x2="488.7" y2="196.3" stroke="#6478b6" stroke-width="0.9"/>
<line x1="487.2" y1="194.6" x2="488.7" y2="194.6" stroke="#6478b6" stroke-width="0.8"/>
<line x1="488.7" y1="190.7" x2="490.2" y2="190.7" stroke="#6478b6" stroke-width="0.8"/>
<line x1="493.0" y1="163.1" x2="493.0" y2="189.7" stroke="#6478b6" stroke-width="0.9"/>
<line x1="491.5" y1="175.6" x2="493.0" y2="175.6" stroke="#6478b6" stroke-width="0.8"/>
<line x1="493.0" y1="172.7" x2="494.5" y2="172.7" stroke="#6478b6" stroke-width="0.8"/>
<line x1="497.3" y1="177.2" x2="497.3" y2="185.5" stroke="#6478b6" stroke-width="0.9"/>
<line x1="495.8" y1="181.8" x2="497.3" y2="181.8" stroke="#6478b6" stroke-width="0.8"/>
<line x1="497.3" y1="179.6" x2="498.8" y2="179.6" stroke="#6478b6" stroke-width="0.8"/>
<line x1="501.6" y1="158.0" x2="501.6" y2="181.5" stroke="#e89c8a" stroke-width="0.9"/>
<line x1="500.1" y1="174.3" x2="501.6" y2="174.3" stroke="#e89c8a" stroke-width="0.8"/>
<line x1="501.6" y1="169.9" x2="503.1" y2="169.9" stroke="#e89c8a" stroke-width="0.8"/>
<line x1="505.9" y1="140.6" x2="505.9" y2="167.4" stroke="#6478b6" stroke-width="0.9"/>
<line x1="504.4" y1="160.4" x2="505.9" y2="160.4" stroke="#6478b6" stroke-width="0.8"/>
<line x1="505.9" y1="153.8" x2="507.4" y2="153.8" stroke="#6478b6" stroke-width="0.8"/>
<line x1="510.2" y1="129.1" x2="510.2" y2="148.2" stroke="#6478b6" stroke-width="0.9"/>
<line x1="508.7" y1="138.1" x2="510.2" y2="138.1" stroke="#6478b6" stroke-width="0.8"/>
<line x1="510.2" y1="136.4" x2="511.7" y2="136.4" stroke="#6478b6" stroke-width="0.8"/>
<line x1="514.5" y1="114.7" x2="514.5" y2="120.3" stroke="#e89c8a" stroke-width="0.9"/>
<line x1="513.0" y1="118.6" x2="514.5" y2="118.6" stroke="#e89c8a" stroke-width="0.8"/>
<line x1="514.5" y1="115.8" x2="516.0" y2="115.8" stroke="#e89c8a" stroke-width="0.8"/>
<line x1="518.8" y1="114.7" x2="518.8" y2="132.7" stroke="#e89c8a" stroke-width="0.9"/>
<line x1="517.3" y1="128.3" x2="518.8" y2="128.3" stroke="#e89c8a" stroke-width="0.8"/>
<line x1="518.8" y1="126.0" x2="520.3" y2="126.0" stroke="#e89c8a" stroke-width="0.8"/>
<line x1="523.1" y1="128.1" x2="523.1" y2="150.8" stroke="#e89c8a" stroke-width="0.9"/>
<line x1="521.6" y1="138.0" x2="523.1" y2="138.0" stroke="#e89c8a" stroke-width="0.8"/>
<line x1="523.1" y1="146.3" x2="524.6" y2="146.3" stroke="#e89c8a" stroke-width="0.8"/>
<line x1="527.4" y1="138.9" x2="527.4" y2="153.0" stroke="#6478b6" stroke-width="0.9"/>
<line x1="525.9" y1="144.1" x2="527.4" y2="144.1" stroke="#6478b6" stroke-width="0.8"/>
<line x1="527.4" y1="142.1" x2="528.9" y2="142.1" stroke="#6478b6" stroke-width="0.8"/>
<line x1="531.7" y1="126.1" x2="531.7" y2="137.0" stroke="#e89c8a" stroke-width="0.9"/>
<line x1="530.2" y1="134.4" x2="531.7" y2="134.4" stroke="#e89c8a" stroke-width="0.8"/>
<line x1="531.7" y1="129.9" x2="533.2" y2="129.9" stroke="#e89c8a" stroke-width="0.8"/>
<line x1="536.0" y1="152.4" x2="536.0" y2="157.5" stroke="#e89c8a" stroke-width="0.9"/>
<line x1="534.5" y1="154.5" x2="536.0" y2="154.5" stroke="#e89c8a" stroke-width="0.8"/>
<line x1="536.0" y1="156.3" x2="537.5" y2="156.3" stroke="#e89c8a" stroke-width="0.8"/>
<line x1="540.3" y1="141.3" x2="540.3" y2="157.5" stroke="#6478b6" stroke-width="0.9"/>
<line x1="538.8" y1="153.4" x2="540.3" y2="153.4" stroke="#6478b6" stroke-width="0.8"/>
<line x1="540.3" y1="153.7" x2="541.8" y2="153.7" stroke="#6478b6" stroke-width="0.8"/>
<line x1="544.6" y1="141.3" x2="544.6" y2="155.1" stroke="#6478b6" stroke-width="0.9"/>
<line x1="543.1" y1="150.1" x2="544.6" y2="150.1" stroke="#6478b6" stroke-width="0.8"/>
<line x1="544.6" y1="147.8" x2="546.1" y2="147.8" stroke="#6478b6" stroke-width="0.8"/>
<line x1="548.9" y1="154.0" x2="548.9" y2="165.5" stroke="#6478b6" stroke-width="0.9"/>
<line x1="547.4" y1="156.6" x2="548.9" y2="156.6" stroke="#6478b6" stroke-width="0.8"/>
<line x1="548.9" y1="162.7" x2="550.4" y2="162.7" stroke="#6478b6" stroke-width="0.8"/>
<line x1="553.2" y1="141.8" x2="553.2" y2="153.1" stroke="#e89c8a" stroke-width="0.9"/>
<line x1="551.7" y1="146.1" x2="553.2" y2="146.1" stroke="#e89c8a" stroke-width="0.8"/>
<line x1="553.2" y1="149.1" x2="554.7" y2="149.1" stroke="#e89c8a" stroke-width="0.8"/>
<line x1="557.5" y1="173.6" x2="557.5" y2="179.5" stroke="#6478b6" stroke-width="0.9"/>
<line x1="556.0" y1="175.8" x2="557.5" y2="175.8" stroke="#6478b6" stroke-width="0.8"/>
<line x1="557.5" y1="176.7" x2="559.0" y2="176.7" stroke="#6478b6" stroke-width="0.8"/>
<line x1="561.8" y1="160.3" x2="561.8" y2="170.2" stroke="#e89c8a" stroke-width="0.9"/>
<line x1="560.3" y1="163.5" x2="561.8" y2="163.5" stroke="#e89c8a" stroke-width="0.8"/>
<line x1="561.8" y1="167.7" x2="563.3" y2="167.7" stroke="#e89c8a" stroke-width="0.8"/>
<line x1="566.1" y1="165.2" x2="566.1" y2="193.0" stroke="#e89c8a" stroke-width="0.9"/>
<line x1="564.6" y1="187.4" x2="566.1" y2="187.4" stroke="#e89c8a" stroke-width="0.8"/>
<line x1="566.1" y1="178.3" x2="567.6" y2="178.3" stroke="#e89c8a" stroke-width="0.8"/>
<line x1="570.4" y1="190.6" x2="570.4" y2="214.7" stroke="#e89c8a" stroke-width="0.9"/>
<line x1="568.9" y1="200.4" x2="570.4" y2="200.4" stroke="#e89c8a" stroke-width="0.8"/>
<line x1="570.4" y1="196.8" x2="571.9" y2="196.8" stroke="#e89c8a" stroke-width="0.8"/>
<line x1="574.7" y1="212.5" x2="574.7" y2="223.0" stroke="#6478b6" stroke-width="0.9"/>
<line x1="573.2" y1="220.2" x2="574.7" y2="220.2" stroke="#6478b6" stroke-width="0.8"/>
<line x1="574.7" y1="219.3" x2="576.2" y2="219.3" stroke="#6478b6" stroke-width="0.8"/>
<line x1="579.0" y1="186.0" x2="579.0" y2="214.7" stroke="#6478b6" stroke-width="0.9"/>
<line x1="577.5" y1="198.2" x2="579.0" y2="198.2" stroke="#6478b6" stroke-width="0.8"/>
<line x1="579.0" y1="197.6" x2="580.5" y2="197.6" stroke="#6478b6" stroke-width="0.8"/>
<line x1="583.3" y1="163.2" x2="583.3" y2="188.0" stroke="#6478b6" stroke-width="0.9"/>
<line x1="581.8" y1="170.0" x2="583.3" y2="170.0" stroke="#6478b6" stroke-width="0.8"/>
<line x1="583.3" y1="175.6" x2="584.8" y2="175.6" stroke="#6478b6" stroke-width="0.8"/>
<line x1="587.6" y1="131.7" x2="587.6" y2="162.9" stroke="#6478b6" stroke-width="0.9"/>
<line x1="586.1" y1="143.0" x2="587.6" y2="143.0" stroke="#6478b6" stroke-width="0.8"/>
<line x1="587.6" y1="142.6" x2="589.1" y2="142.6" stroke="#6478b6" stroke-width="0.8"/>
<line x1="591.9" y1="121.0" x2="591.9" y2="130.0" stroke="#e89c8a" stroke-width="0.9"/>
<line x1="590.4" y1="127.4" x2="591.9" y2="127.4" stroke="#e89c8a" stroke-width="0.8"/>
<line x1="591.9" y1="127.5" x2="593.4" y2="127.5" stroke="#e89c8a" stroke-width="0.8"/>
<line x1="141.3" y1="233.0" x2="141.3" y2="302.5" stroke="#e89c8a" stroke-width="0.9"/>
<line x1="399.7" y1="103.0" x2="399.7" y2="184.0" stroke="#d9a0b0" stroke-width="0.9"/>
<line x1="54.0" y1="388.0" x2="67.5" y2="312.5" stroke="#3d5d55" stroke-width="1.0" stroke-linecap="round"/>
<line x1="67.5" y1="312.5" x2="80.6" y2="336.6" stroke="#666c50" stroke-width="1.0" stroke-linecap="round"/>
<line x1="80.6" y1="336.6" x2="97.5" y2="282.0" stroke="#3d5d55" stroke-width="1.0" stroke-linecap="round"/>
<line x1="97.5" y1="282.0" x2="101.9" y2="305.0" stroke="#666c50" stroke-width="1.0" stroke-linecap="round"/>
<line x1="101.9" y1="305.0" x2="131.5" y2="223.0" stroke="#3d5d55" stroke-width="1.0" stroke-linecap="round"/>
<line x1="131.5" y1="223.0" x2="140.3" y2="305.5" stroke="#666c50" stroke-width="1.0" stroke-linecap="round"/>
<line x1="140.3" y1="305.5" x2="145.2" y2="274.2" stroke="#3d5d55" stroke-width="1.0" stroke-linecap="round"/>
<line x1="145.2" y1="274.2" x2="148.3" y2="327.0" stroke="#666c50" stroke-width="1.0" stroke-linecap="round"/>
<line x1="148.3" y1="327.0" x2="154.0" y2="245.2" stroke="#3d5d55" stroke-width="1.0" stroke-linecap="round"/>
<line x1="154.0" y1="245.2" x2="171.5" y2="291.0" stroke="#666c50" stroke-width="1.0" stroke-linecap="round"/>
<line x1="171.5" y1="291.0" x2="175.4" y2="250.5" stroke="#3d5d55" stroke-width="1.0" stroke-linecap="round"/>
<line x1="175.4" y1="250.5" x2="192.4" y2="308.0" stroke="#666c50" stroke-width="1.0" stroke-linecap="round"/>
<line x1="192.4" y1="308.0" x2="217.5" y2="239.0" stroke="#3d5d55" stroke-width="1.0" stroke-linecap="round"/>
<line x1="217.5" y1="239.0" x2="227.6" y2="265.0" stroke="#666c50" stroke-width="1.0" stroke-linecap="round"/>
<line x1="227.6" y1="265.0" x2="235.3" y2="223.0" stroke="#3d5d55" stroke-width="1.0" stroke-linecap="round"/>
<line x1="235.3" y1="223.0" x2="239.3" y2="260.0" stroke="#666c50" stroke-width="1.0" stroke-linecap="round"/>
<line x1="239.3" y1="260.0" x2="269.8" y2="203.7" stroke="#3d5d55" stroke-width="1.0" stroke-linecap="round"/>
<line x1="269.8" y1="203.7" x2="274.1" y2="234.9" stroke="#666c50" stroke-width="1.0" stroke-linecap="round"/>
<line x1="274.1" y1="234.9" x2="290.8" y2="210.8" stroke="#3d5d55" stroke-width="1.0" stroke-linecap="round"/>
<line x1="290.8" y1="210.8" x2="291.3" y2="234.9" stroke="#666c50" stroke-width="1.0" stroke-linecap="round"/>
<line x1="291.3" y1="234.9" x2="325.5" y2="171.5" stroke="#3d5d55" stroke-width="1.0" stroke-linecap="round"/>
<line x1="325.5" y1="171.5" x2="326.0" y2="191.8" stroke="#666c50" stroke-width="1.0" stroke-linecap="round"/>
<line x1="326.0" y1="191.8" x2="350.9" y2="168.2" stroke="#3d5d55" stroke-width="1.0" stroke-linecap="round"/>
<line x1="350.9" y1="168.2" x2="355.2" y2="183.0" stroke="#666c50" stroke-width="1.0" stroke-linecap="round"/>
<line x1="355.2" y1="183.0" x2="393.8" y2="100.8" stroke="#3d5d55" stroke-width="1.0" stroke-linecap="round"/>
<line x1="393.8" y1="100.8" x2="402.1" y2="184.0" stroke="#666c50" stroke-width="1.0" stroke-linecap="round"/>
<line x1="402.1" y1="184.0" x2="410.8" y2="150.6" stroke="#3d5d55" stroke-width="1.0" stroke-linecap="round"/>
<line x1="410.8" y1="150.6" x2="415.6" y2="201.2" stroke="#666c50" stroke-width="1.0" stroke-linecap="round"/>
<line x1="415.6" y1="201.2" x2="419.0" y2="159.0" stroke="#3d5d55" stroke-width="1.0" stroke-linecap="round"/>
<line x1="419.0" y1="159.0" x2="423.5" y2="196.5" stroke="#666c50" stroke-width="1.0" stroke-linecap="round"/>
<line x1="423.5" y1="196.5" x2="437.2" y2="155.0" stroke="#3d5d55" stroke-width="1.0" stroke-linecap="round"/>
<line x1="437.2" y1="155.0" x2="449.8" y2="225.8" stroke="#666c50" stroke-width="1.0" stroke-linecap="round"/>
<line x1="449.8" y1="225.8" x2="458.2" y2="191.6" stroke="#3d5d55" stroke-width="1.0" stroke-linecap="round"/>
<line x1="458.2" y1="191.6" x2="462.6" y2="231.5" stroke="#666c50" stroke-width="1.0" stroke-linecap="round"/>
<line x1="462.6" y1="231.5" x2="479.7" y2="168.3" stroke="#3d5d55" stroke-width="1.0" stroke-linecap="round"/>
<line x1="479.7" y1="168.3" x2="480.2" y2="200.5" stroke="#666c50" stroke-width="1.0" stroke-linecap="round"/>
<line x1="480.2" y1="200.5" x2="484.8" y2="166.3" stroke="#3d5d55" stroke-width="1.0" stroke-linecap="round"/>
<line x1="484.8" y1="166.3" x2="488.3" y2="196.8" stroke="#666c50" stroke-width="1.0" stroke-linecap="round"/>
<line x1="488.3" y1="196.8" x2="496.5" y2="155.0" stroke="#3d5d55" stroke-width="1.0" stroke-linecap="round"/>
<line x1="496.5" y1="155.0" x2="497.2" y2="186.0" stroke="#666c50" stroke-width="1.0" stroke-linecap="round"/>
<line x1="497.2" y1="186.0" x2="514.3" y2="114.2" stroke="#3d5d55" stroke-width="1.0" stroke-linecap="round"/>
<line x1="514.3" y1="114.2" x2="526.2" y2="153.5" stroke="#666c50" stroke-width="1.0" stroke-linecap="round"/>
<line x1="526.2" y1="153.5" x2="530.8" y2="125.6" stroke="#3d5d55" stroke-width="1.0" stroke-linecap="round"/>
<line x1="530.8" y1="125.6" x2="535.4" y2="158.0" stroke="#666c50" stroke-width="1.0" stroke-linecap="round"/>
<line x1="535.4" y1="158.0" x2="542.2" y2="140.8" stroke="#3d5d55" stroke-width="1.0" stroke-linecap="round"/>
<line x1="542.2" y1="140.8" x2="548.5" y2="166.0" stroke="#666c50" stroke-width="1.0" stroke-linecap="round"/>
<line x1="548.5" y1="166.0" x2="553.0" y2="141.3" stroke="#3d5d55" stroke-width="1.0" stroke-linecap="round"/>
<line x1="553.0" y1="141.3" x2="557.4" y2="180.0" stroke="#666c50" stroke-width="1.0" stroke-linecap="round"/>
<line x1="557.4" y1="180.0" x2="561.7" y2="159.8" stroke="#3d5d55" stroke-width="1.0" stroke-linecap="round"/>
<line x1="561.7" y1="159.8" x2="573.7" y2="223.5" stroke="#666c50" stroke-width="1.0" stroke-linecap="round"/>
<line x1="573.7" y1="223.5" x2="591.6" y2="120.5" stroke="#3d5d55" stroke-width="1.0" stroke-linecap="round"/>
<line x1="591.6" y1="120.5" x2="596.0" y2="144.6" stroke="#666c50" stroke-width="1.0" stroke-linecap="round"/>
<polyline points="3.5,316.5 16.5,316.5 16.5,382.0 38.0,382.0 38.0,321.5 50.0,321.5 50.0,388.0 63.0,388.0 63.0,224.7 140.4,224.7 140.4,328.0 149.3,328.0 149.3,247.8 183.2,247.8 183.2,307.8 204.8,307.8 204.8,100.7 398.2,100.7 398.2,233.5 470.9,233.5 470.9,114.0 556.9,114.0 556.9,224.2 587.1,224.2 587.1,121.5" fill="none" stroke="#384988" stroke-width="1.3" stroke-linejoin="round"/>
<rect x="137.5" y="37.3" width="434.5" height="16.1" rx="4" fill="#ffffff" fill-opacity="0.55"/>
<path d="M141.5,36.8 H568 a4.5,4.5 0 0 1 4.5,4.5 V49.4 a4.5,4.5 0 0 1 -4.5,4.5 H360.3 L401.7,85.5 L348.6,53.9 H141.5 a4.5,4.5 0 0 1 -4.5,-4.5 V41.3 a4.5,4.5 0 0 1 4.5,-4.5 Z" fill="none" stroke="#909090" stroke-width="0.85"/>
<text x="142.5" y="47.3" font-family="Liberation Sans" font-size="6.3" font-weight="normal" fill="#2a2a2a" stroke="#2a2a2a" stroke-width="0.1" text-anchor="start" textLength="425.0" lengthAdjust="spacingAndGlyphs">225 points - Gann in his book Wall Street Stock Selector says if the stock price goes through 225 the second or third time then the run to 240 points begins.</text>
<rect x="244.4" y="272.7" width="169.5" height="16.2" rx="5" fill="#ffffff"/>
<path d="M249,272.2 H325 L265.5,251.4 L333.9,272.2 H409.4 a5,5 0 0 1 5,5 V284.4 a5,5 0 0 1 -5,5 H249 a5,5 0 0 1 -5,-5 V277.2 a5,5 0 0 1 5,-5 Z" fill="none" stroke="#909090" stroke-width="0.9"/>
<text x="250.3" y="282.5" font-family="Liberation Sans" font-size="6.3" font-weight="normal" fill="#2a2a2a" stroke="#2a2a2a" stroke-width="0.1" text-anchor="start" textLength="155.5" lengthAdjust="spacingAndGlyphs">1x2 Gann line i.e. 0.5 Gann points or 8 SPX points per day</text>
<rect x="71.5" y="194.5" width="81.7" height="9.6" fill="#ffffff" fill-opacity="0.25" stroke="#4a568e" stroke-width="0.8"/>
<text x="73.5" y="201.6" font-family="Liberation Sans" font-size="7" font-weight="normal" fill="#34468a" stroke="#34468a" stroke-width="0.28" text-anchor="start" textLength="77.5" lengthAdjust="spacingAndGlyphs">65.5 Pts/ 77D, 1st Section</text>
<rect x="276.6" y="86.7" width="82.0" height="9.6" fill="#ffffff" fill-opacity="0.25" stroke="#4a568e" stroke-width="0.8"/>
<text x="278.5" y="94.0" font-family="Liberation Sans" font-size="7" font-weight="normal" fill="#34468a" stroke="#34468a" stroke-width="0.28" text-anchor="start" textLength="73.0" lengthAdjust="spacingAndGlyphs">37 Pts/ 65D,2nd Section</text>
<rect x="132.1" y="344.4" width="110.5" height="16.9" fill="#ffffff" fill-opacity="0.25" stroke="#d0705c" stroke-width="0.8"/>
<text x="133.2" y="351.8" font-family="Liberation Sans" font-size="6.8" font-weight="normal" fill="#c6563f" stroke="#c6563f" stroke-width="0.28" text-anchor="start" textLength="100.0" lengthAdjust="spacingAndGlyphs">18.5 Pts/ 21 D including the 10.3</text>
<text x="133.2" y="358.4" font-family="Liberation Sans" font-size="6.8" font-weight="normal" fill="#c6563f" stroke="#c6563f" stroke-width="0.28" text-anchor="start" textLength="82.5" lengthAdjust="spacingAndGlyphs">point low, 1st section ends.</text>
<rect x="487.5" y="249.8" width="86.5" height="9.8" fill="#ffffff" fill-opacity="0.25" stroke="#d77c68" stroke-width="0.8"/>
<text x="490.0" y="257.0" font-family="Liberation Sans" font-size="6.8" font-weight="normal" fill="#c6563f" stroke="#c6563f" stroke-width="0.28" text-anchor="start" textLength="81.0" lengthAdjust="spacingAndGlyphs">23.6 Pts, 58D, 2nd section</text>
<text x="81.6" y="218.2" font-family="Liberation Sans" font-size="7" font-weight="normal" fill="#34468a" stroke="#34468a" stroke-width="0.28" text-anchor="start" textLength="40.8" lengthAdjust="spacingAndGlyphs">29.2 Pts/ 25D</text>
<text x="155.0" y="239.6" font-family="Liberation Sans" font-size="7" font-weight="normal" fill="#34468a" stroke="#34468a" stroke-width="0.28" text-anchor="start" textLength="36.0" lengthAdjust="spacingAndGlyphs">14.5 Pts/ 1D</text>
<text x="6.9" y="303.0" font-family="Liberation Sans" font-size="7" font-weight="normal" fill="#34468a" stroke="#34468a" stroke-width="0.28" text-anchor="start" textLength="23.5" lengthAdjust="spacingAndGlyphs">Pts / 8D</text>
<text x="30.9" y="309.7" font-family="Liberation Sans" font-size="7" font-weight="normal" fill="#34468a" stroke="#34468a" stroke-width="0.28" text-anchor="start" textLength="38.0" lengthAdjust="spacingAndGlyphs">10.8 Pts / 7D</text>
<text x="519.4" y="106.6" font-family="Liberation Sans" font-size="7" font-weight="normal" fill="#34468a" stroke="#34468a" stroke-width="0.28" text-anchor="start" textLength="34.7" lengthAdjust="spacingAndGlyphs">21Pts / 18D</text>
<text x="588.3" y="106.6" font-family="Liberation Sans" font-size="7" font-weight="normal" fill="#34468a" stroke="#34468a" stroke-width="0.28" text-anchor="start" textLength="33.0" lengthAdjust="spacingAndGlyphs">18.4Pts/7D</text>
<text x="17.7" y="390.0" font-family="Liberation Sans" font-size="7" font-weight="normal" fill="#c6563f" stroke="#c6563f" stroke-width="0.28" text-anchor="start" textLength="30.4" lengthAdjust="spacingAndGlyphs">12 Pts/ 4D</text>
<text x="52.0" y="397.5" font-family="Liberation Sans" font-size="7" font-weight="normal" fill="#c6563f" stroke="#c6563f" stroke-width="0.28" text-anchor="start" textLength="36.7" lengthAdjust="spacingAndGlyphs">11.8 Pts/ 3D</text>
<text x="133.8" y="339.3" font-family="Liberation Sans" font-size="7" font-weight="normal" fill="#c6563f" stroke="#c6563f" stroke-width="0.28" text-anchor="start" textLength="34.7" lengthAdjust="spacingAndGlyphs">18.5Pts/ 7D</text>
<text x="185.1" y="320.1" font-family="Liberation Sans" font-size="7" font-weight="normal" fill="#c6563f" stroke="#c6563f" stroke-width="0.28" text-anchor="start" textLength="39.3" lengthAdjust="spacingAndGlyphs">10.3 Pts/ 13D</text>
<text x="420.0" y="242.7" font-family="Liberation Sans" font-size="7" font-weight="normal" fill="#c6563f" stroke="#c6563f" stroke-width="0.28" text-anchor="start" textLength="40.6" lengthAdjust="spacingAndGlyphs">23.6 Pts/ 22D</text>
<text x="571.9" y="241.2" font-family="Liberation Sans" font-size="7" font-weight="normal" fill="#c6563f" stroke="#c6563f" stroke-width="0.28" text-anchor="start" textLength="35.5" lengthAdjust="spacingAndGlyphs">18.2Pts/18D</text>
<text x="433.4" y="105.0" font-family="Liberation Sans" font-size="6.3" font-weight="normal" fill="#e3a04c" stroke="#e3a04c" stroke-width="0.28" text-anchor="start" textLength="48.6" lengthAdjust="spacingAndGlyphs">2.3Pts double top</text>
<text x="485.1" y="227.5" font-family="Liberation Sans" font-size="6.3" font-weight="normal" fill="#e3a04c" stroke="#e3a04c" stroke-width="0.28" text-anchor="start" textLength="50.7" lengthAdjust="spacingAndGlyphs">1.5 double bottom</text>
<text x="218.5" y="235.8" font-family="Liberation Sans" font-size="6.3" font-weight="normal" fill="#3a6d3c" stroke="#3a6d3c" stroke-width="0.28" text-anchor="start" textLength="11.9" lengthAdjust="spacingAndGlyphs">12.4</text>
<text x="236.3" y="221.8" font-family="Liberation Sans" font-size="6.3" font-weight="normal" fill="#3a6d3c" stroke="#3a6d3c" stroke-width="0.28" text-anchor="start" textLength="9.5" lengthAdjust="spacingAndGlyphs">7.5</text>
<text x="271.0" y="204.5" font-family="Liberation Sans" font-size="6.3" font-weight="normal" fill="#3a6d3c" stroke="#3a6d3c" stroke-width="0.28" text-anchor="start" textLength="11.5" lengthAdjust="spacingAndGlyphs">10.2</text>
<text x="323.0" y="170.3" font-family="Liberation Sans" font-size="6.3" font-weight="normal" fill="#3a6d3c" stroke="#3a6d3c" stroke-width="0.28" text-anchor="start" textLength="12.0" lengthAdjust="spacingAndGlyphs">11.4</text>
<text x="347.6" y="166.0" font-family="Liberation Sans" font-size="6.3" font-weight="normal" fill="#3a6d3c" stroke="#3a6d3c" stroke-width="0.28" text-anchor="start" textLength="9.4" lengthAdjust="spacingAndGlyphs">4.6</text>
<text x="437.8" y="155.6" font-family="Liberation Sans" font-size="6.3" font-weight="normal" fill="#3a6d3c" stroke="#3a6d3c" stroke-width="0.28" text-anchor="start" textLength="9.2" lengthAdjust="spacingAndGlyphs">9.2</text>
<text x="411.7" y="211.6" font-family="Liberation Sans" font-size="6.3" font-weight="normal" fill="#3a6d3c" stroke="#3a6d3c" stroke-width="0.28" text-anchor="start" textLength="8.8" lengthAdjust="spacingAndGlyphs">9.5</text>
<text x="427.6" y="207.3" font-family="Liberation Sans" font-size="6.3" font-weight="normal" fill="#3a6d3c" stroke="#3a6d3c" stroke-width="0.28" text-anchor="start" textLength="9.4" lengthAdjust="spacingAndGlyphs">7.2</text>
<text x="477.5" y="170.0" font-family="Liberation Sans" font-size="6.3" font-weight="normal" fill="#3a6d3c" stroke="#3a6d3c" stroke-width="0.28" text-anchor="start" textLength="5.5" lengthAdjust="spacingAndGlyphs">11</text>
<text x="522.4" y="160.4" font-family="Liberation Sans" font-size="6.3" font-weight="normal" fill="#3a6d3c" stroke="#3a6d3c" stroke-width="0.28" text-anchor="start" textLength="9.6" lengthAdjust="spacingAndGlyphs">6.9</text>
<text x="535.8" y="167.5" font-family="Liberation Sans" font-size="6.3" font-weight="normal" fill="#3a6d3c" stroke="#3a6d3c" stroke-width="0.28" text-anchor="start" textLength="3.5" lengthAdjust="spacingAndGlyphs">6</text>
<text x="544.7" y="171.8" font-family="Liberation Sans" font-size="6.3" font-weight="normal" fill="#3a6d3c" stroke="#3a6d3c" stroke-width="0.28" text-anchor="start" textLength="9.3" lengthAdjust="spacingAndGlyphs">4.2</text>
<text x="552.3" y="187.0" font-family="Liberation Sans" font-size="6.3" font-weight="normal" fill="#3a6d3c" stroke="#3a6d3c" stroke-width="0.28" text-anchor="start" textLength="8.7" lengthAdjust="spacingAndGlyphs">5.6</text>
<text x="587.8" y="118.5" font-family="Liberation Sans" font-size="6.3" font-weight="normal" fill="#3a6d3c" stroke="#3a6d3c" stroke-width="0.28" text-anchor="start" textLength="12.2" lengthAdjust="spacingAndGlyphs">18.4</text>
<text x="595.9" y="153.5" font-family="Liberation Sans" font-size="6.3" font-weight="normal" fill="#3a6d3c" stroke="#3a6d3c" stroke-width="0.28" text-anchor="start" textLength="9.1" lengthAdjust="spacingAndGlyphs">4.1</text>
<text x="591.6" y="198.6" font-family="Liberation Sans" font-size="6.3" font-weight="normal" fill="#3a6d3c" stroke="#3a6d3c" stroke-width="0.28" text-anchor="start" textLength="3.4" lengthAdjust="spacingAndGlyphs">4</text>
<text x="575.2" y="233.1" font-family="Liberation Sans" font-size="6.3" font-weight="normal" fill="#3a6d3c" stroke="#3a6d3c" stroke-width="0.28" text-anchor="start" textLength="5.8" lengthAdjust="spacingAndGlyphs">10</text>
<text x="392.6" y="102.0" font-family="Liberation Sans" font-size="6" font-weight="normal" fill="#3c7c80" stroke="#3c7c80" stroke-width="0.28" text-anchor="start" textLength="10.4" lengthAdjust="spacingAndGlyphs">14.9</text>
<text x="399.8" y="193.3" font-family="Liberation Sans" font-size="6.3" font-weight="normal" fill="#3c7c80" stroke="#3c7c80" stroke-width="0.28" text-anchor="start" textLength="11.2" lengthAdjust="spacingAndGlyphs">14.9</text>
<text x="451.0" y="235.0" font-family="Liberation Sans" font-size="6.3" font-weight="normal" fill="#3c7c80" stroke="#3c7c80" stroke-width="0.28" text-anchor="start" textLength="11.0" lengthAdjust="spacingAndGlyphs">12.6</text>
<text x="515.6" y="114.2" font-family="Liberation Sans" font-size="6" font-weight="normal" fill="#3c7c80" stroke="#3c7c80" stroke-width="0.28" text-anchor="start" textLength="5.4" lengthAdjust="spacingAndGlyphs">12</text>
<text x="226.9" y="277.0" font-family="Liberation Sans" font-size="6.3" font-weight="normal" fill="#1c1c1c" stroke="#1c1c1c" stroke-width="0.28" text-anchor="start" textLength="9.1" lengthAdjust="spacingAndGlyphs">4.9</text>
<text x="239.6" y="271.2" font-family="Liberation Sans" font-size="6.3" font-weight="normal" fill="#1c1c1c" stroke="#1c1c1c" stroke-width="0.28" text-anchor="start" textLength="9.1" lengthAdjust="spacingAndGlyphs">6.7</text>
<text x="271.2" y="245.9" font-family="Liberation Sans" font-size="6.3" font-weight="normal" fill="#1c1c1c" stroke="#1c1c1c" stroke-width="0.28" text-anchor="start" textLength="8.8" lengthAdjust="spacingAndGlyphs">5.8</text>
<text x="291.5" y="244.1" font-family="Liberation Sans" font-size="6.3" font-weight="normal" fill="#1c1c1c" stroke="#1c1c1c" stroke-width="0.28" text-anchor="start" textLength="9.1" lengthAdjust="spacingAndGlyphs">4.6</text>
<text x="325.5" y="203.7" font-family="Liberation Sans" font-size="6.3" font-weight="normal" fill="#1c1c1c" stroke="#1c1c1c" stroke-width="0.28" text-anchor="start" textLength="9.5" lengthAdjust="spacingAndGlyphs">3.7</text>
<text x="352.0" y="194.3" font-family="Liberation Sans" font-size="6.3" font-weight="normal" fill="#1c1c1c" stroke="#1c1c1c" stroke-width="0.28" text-anchor="start" textLength="9.5" lengthAdjust="spacingAndGlyphs">3.2</text>
<text x="407.4" y="150.3" font-family="Liberation Sans" font-size="6.3" font-weight="normal" fill="#1c1c1c" stroke="#1c1c1c" stroke-width="0.28" text-anchor="start" textLength="9.3" lengthAdjust="spacingAndGlyphs">6.2</text>
<text x="419.3" y="157.9" font-family="Liberation Sans" font-size="6.3" font-weight="normal" fill="#1c1c1c" stroke="#1c1c1c" stroke-width="0.28" text-anchor="start" textLength="3.7" lengthAdjust="spacingAndGlyphs">8</text>
<text x="438.2" y="157.2" font-family="Liberation Sans" font-size="6.3" font-weight="normal" fill="#1c1c1c" stroke="#1c1c1c" stroke-width="0.28" text-anchor="start" textLength="9.2" lengthAdjust="spacingAndGlyphs">7.5</text>
<text x="459.0" y="192.0" font-family="Liberation Sans" font-size="6.3" font-weight="normal" fill="#1c1c1c" stroke="#1c1c1c" stroke-width="0.28" text-anchor="start" textLength="9.5" lengthAdjust="spacingAndGlyphs">6.4</text>
<text x="463.6" y="241.5" font-family="Liberation Sans" font-size="6.3" font-weight="normal" fill="#1c1c1c" stroke="#1c1c1c" stroke-width="0.28" text-anchor="start" textLength="8.4" lengthAdjust="spacingAndGlyphs">7.6</text>
<text x="480.8" y="208.0" font-family="Liberation Sans" font-size="6.3" font-weight="normal" fill="#1c1c1c" stroke="#1c1c1c" stroke-width="0.28" text-anchor="start" textLength="8.7" lengthAdjust="spacingAndGlyphs">4.5</text>
<text x="489.5" y="204.7" font-family="Liberation Sans" font-size="6.3" font-weight="normal" fill="#1c1c1c" stroke="#1c1c1c" stroke-width="0.28" text-anchor="start" textLength="9.0" lengthAdjust="spacingAndGlyphs">5.4</text>
<text x="497.8" y="194.6" font-family="Liberation Sans" font-size="6.3" font-weight="normal" fill="#1c1c1c" stroke="#1c1c1c" stroke-width="0.28" text-anchor="start" textLength="9.2" lengthAdjust="spacingAndGlyphs">5.6</text>
<text x="486.0" y="168.0" font-family="Liberation Sans" font-size="6.3" font-weight="normal" fill="#2a4a3a" stroke="#2a4a3a" stroke-width="0.28" text-anchor="start" textLength="9.0" lengthAdjust="spacingAndGlyphs">6.0</text>
<text x="493.5" y="153.0" font-family="Liberation Sans" font-size="6.3" font-weight="normal" fill="#2c4c4c" stroke="#2c4c4c" stroke-width="0.28" text-anchor="start" textLength="9.0" lengthAdjust="spacingAndGlyphs">6.2</text>
<text x="539.6" y="140.1" font-family="Liberation Sans" font-size="6.3" font-weight="normal" fill="#1c1c1c" stroke="#1c1c1c" stroke-width="0.28" text-anchor="start" textLength="9.4" lengthAdjust="spacingAndGlyphs">3.7</text>
<text x="553.5" y="140.1" font-family="Liberation Sans" font-size="6.3" font-weight="normal" fill="#1c1c1c" stroke="#1c1c1c" stroke-width="0.28" text-anchor="start" textLength="8.5" lengthAdjust="spacingAndGlyphs">3.7</text>
<text x="563.0" y="159.1" font-family="Liberation Sans" font-size="6.3" font-weight="normal" fill="#1c1c1c" stroke="#1c1c1c" stroke-width="0.28" text-anchor="start" textLength="9.0" lengthAdjust="spacingAndGlyphs">3.4</text>
<text x="532.0" y="127.6" font-family="Liberation Sans" font-size="6.3" font-weight="normal" fill="#1c1c1c" stroke="#1c1c1c" stroke-width="0.28" text-anchor="start" textLength="9.5" lengthAdjust="spacingAndGlyphs">4.8</text>
<line x1="4.2" y1="300.3" x2="5.4" y2="300.3" stroke="#34468a" stroke-width="0.8"/>
<text x="387.0" y="92.3" font-family="Liberation Sans" font-size="8" font-weight="bold" fill="#0c0c0c" stroke="#0c0c0c" stroke-width="0.2" text-anchor="start" textLength="19.5" lengthAdjust="spacingAndGlyphs">224.2</text>
<text x="511.0" y="99.1" font-family="Liberation Sans" font-size="8" font-weight="bold" fill="#0c0c0c" stroke="#0c0c0c" stroke-width="0.2" text-anchor="start" textLength="19.9" lengthAdjust="spacingAndGlyphs">221.8</text>
<text x="469.0" y="246.1" font-family="Liberation Sans" font-size="8" font-weight="bold" fill="#0c0c0c" stroke="#0c0c0c" stroke-width="0.2" text-anchor="start" textLength="22.8" lengthAdjust="spacingAndGlyphs">200.59</text>
<line x1="288.9" y1="201.5" x2="293.7" y2="206.1" stroke="#2f4390" stroke-width="1.5"/>
<line x1="288.9" y1="206.1" x2="293.7" y2="201.5" stroke="#2f4390" stroke-width="1.5"/>
<line x1="421.9" y1="204.7" x2="426.7" y2="209.3" stroke="#2f4390" stroke-width="1.5"/>
<line x1="421.9" y1="209.3" x2="426.7" y2="204.7" stroke="#2f4390" stroke-width="1.5"/>
<text x="8.7" y="13.2" font-family="Liberation Sans" font-size="7.2" font-weight="bold" fill="#111" stroke="#111" stroke-width="0.08" text-anchor="start" textLength="92.5" lengthAdjust="spacingAndGlyphs">US SP 500 CFD, 1D, FOREX.com</text>
<text x="8.7" y="23.2" font-family="Liberation Sans" font-size="7.2" font-weight="normal" fill="#222" stroke="#222" stroke-width="0.15" text-anchor="start" textLength="138.2" lengthAdjust="spacingAndGlyphs">Vol: No volume is provided by the data vendor.</text>
<line x1="625.1" y1="1.0" x2="625.1" y2="410.0" stroke="#555555" stroke-width="1.25"/>
<text x="721.6" y="28.7" font-family="Liberation Sans" font-size="6.4" font-weight="normal" fill="#3a3a3a" stroke="#3a3a3a" stroke-width="0.06" text-anchor="start" textLength="19.4" lengthAdjust="spacingAndGlyphs">3800.0</text>
<line x1="715.0" y1="26.0" x2="717.0" y2="26.0" stroke="#e3e3e3" stroke-width="0.8"/>
<text x="721.6" y="46.2" font-family="Liberation Sans" font-size="6.4" font-weight="normal" fill="#3a3a3a" stroke="#3a3a3a" stroke-width="0.06" text-anchor="start" textLength="19.4" lengthAdjust="spacingAndGlyphs">3750.0</text>
<line x1="715.0" y1="43.5" x2="717.0" y2="43.5" stroke="#e3e3e3" stroke-width="0.8"/>
<text x="721.6" y="63.8" font-family="Liberation Sans" font-size="6.4" font-weight="normal" fill="#3a3a3a" stroke="#3a3a3a" stroke-width="0.06" text-anchor="start" textLength="19.4" lengthAdjust="spacingAndGlyphs">3700.0</text>
<line x1="715.0" y1="61.1" x2="717.0" y2="61.1" stroke="#e3e3e3" stroke-width="0.8"/>
<text x="721.6" y="81.4" font-family="Liberation Sans" font-size="6.4" font-weight="normal" fill="#3a3a3a" stroke="#3a3a3a" stroke-width="0.06" text-anchor="start" textLength="19.4" lengthAdjust="spacingAndGlyphs">3650.0</text>
<line x1="715.0" y1="78.7" x2="717.0" y2="78.7" stroke="#e3e3e3" stroke-width="0.8"/>
<text x="721.6" y="98.9" font-family="Liberation Sans" font-size="6.4" font-weight="normal" fill="#3a3a3a" stroke="#3a3a3a" stroke-width="0.06" text-anchor="start" textLength="19.4" lengthAdjust="spacingAndGlyphs">3600.0</text>
<line x1="715.0" y1="96.2" x2="717.0" y2="96.2" stroke="#e3e3e3" stroke-width="0.8"/>
<text x="721.6" y="116.5" font-family="Liberation Sans" font-size="6.4" font-weight="normal" fill="#3a3a3a" stroke="#3a3a3a" stroke-width="0.06" text-anchor="start" textLength="19.4" lengthAdjust="spacingAndGlyphs">3550.0</text>
<line x1="715.0" y1="113.8" x2="717.0" y2="113.8" stroke="#e3e3e3" stroke-width="0.8"/>
<text x="721.6" y="134.0" font-family="Liberation Sans" font-size="6.4" font-weight="normal" fill="#3a3a3a" stroke="#3a3a3a" stroke-width="0.06" text-anchor="start" textLength="19.4" lengthAdjust="spacingAndGlyphs">3500.0</text>
<line x1="715.0" y1="131.3" x2="717.0" y2="131.3" stroke="#e3e3e3" stroke-width="0.8"/>
<text x="721.6" y="151.6" font-family="Liberation Sans" font-size="6.4" font-weight="normal" fill="#3a3a3a" stroke="#3a3a3a" stroke-width="0.06" text-anchor="start" textLength="19.4" lengthAdjust="spacingAndGlyphs">3450.0</text>
<line x1="715.0" y1="148.9" x2="717.0" y2="148.9" stroke="#e3e3e3" stroke-width="0.8"/>
<text x="721.6" y="169.1" font-family="Liberation Sans" font-size="6.4" font-weight="normal" fill="#3a3a3a" stroke="#3a3a3a" stroke-width="0.06" text-anchor="start" textLength="19.4" lengthAdjust="spacingAndGlyphs">3400.0</text>
<line x1="715.0" y1="166.4" x2="717.0" y2="166.4" stroke="#e3e3e3" stroke-width="0.8"/>
<text x="721.6" y="186.7" font-family="Liberation Sans" font-size="6.4" font-weight="normal" fill="#3a3a3a" stroke="#3a3a3a" stroke-width="0.06" text-anchor="start" textLength="19.4" lengthAdjust="spacingAndGlyphs">3350.0</text>
<line x1="715.0" y1="184.0" x2="717.0" y2="184.0" stroke="#e3e3e3" stroke-width="0.8"/>
<text x="721.6" y="204.2" font-family="Liberation Sans" font-size="6.4" font-weight="normal" fill="#3a3a3a" stroke="#3a3a3a" stroke-width="0.06" text-anchor="start" textLength="19.4" lengthAdjust="spacingAndGlyphs">3300.0</text>
<line x1="715.0" y1="201.5" x2="717.0" y2="201.5" stroke="#e3e3e3" stroke-width="0.8"/>
<text x="721.6" y="221.8" font-family="Liberation Sans" font-size="6.4" font-weight="normal" fill="#3a3a3a" stroke="#3a3a3a" stroke-width="0.06" text-anchor="start" textLength="19.4" lengthAdjust="spacingAndGlyphs">3250.0</text>
<line x1="715.0" y1="219.1" x2="717.0" y2="219.1" stroke="#e3e3e3" stroke-width="0.8"/>
<text x="721.6" y="239.3" font-family="Liberation Sans" font-size="6.4" font-weight="normal" fill="#3a3a3a" stroke="#3a3a3a" stroke-width="0.06" text-anchor="start" textLength="19.4" lengthAdjust="spacingAndGlyphs">3200.0</text>
<line x1="715.0" y1="236.6" x2="717.0" y2="236.6" stroke="#e3e3e3" stroke-width="0.8"/>
<text x="721.6" y="256.9" font-family="Liberation Sans" font-size="6.4" font-weight="normal" fill="#3a3a3a" stroke="#3a3a3a" stroke-width="0.06" text-anchor="start" textLength="19.4" lengthAdjust="spacingAndGlyphs">3150.0</text>
<line x1="715.0" y1="254.2" x2="717.0" y2="254.2" stroke="#e3e3e3" stroke-width="0.8"/>
<text x="721.6" y="274.4" font-family="Liberation Sans" font-size="6.4" font-weight="normal" fill="#3a3a3a" stroke="#3a3a3a" stroke-width="0.06" text-anchor="start" textLength="19.4" lengthAdjust="spacingAndGlyphs">3100.0</text>
<line x1="715.0" y1="271.7" x2="717.0" y2="271.7" stroke="#e3e3e3" stroke-width="0.8"/>
<text x="721.6" y="291.9" font-family="Liberation Sans" font-size="6.4" font-weight="normal" fill="#3a3a3a" stroke="#3a3a3a" stroke-width="0.06" text-anchor="start" textLength="19.4" lengthAdjust="spacingAndGlyphs">3050.0</text>
<line x1="715.0" y1="289.2" x2="717.0" y2="289.2" stroke="#e3e3e3" stroke-width="0.8"/>
<text x="721.6" y="309.5" font-family="Liberation Sans" font-size="6.4" font-weight="normal" fill="#3a3a3a" stroke="#3a3a3a" stroke-width="0.06" text-anchor="start" textLength="19.4" lengthAdjust="spacingAndGlyphs">3000.0</text>
<line x1="715.0" y1="306.8" x2="717.0" y2="306.8" stroke="#e3e3e3" stroke-width="0.8"/>
<text x="721.6" y="327.1" font-family="Liberation Sans" font-size="6.4" font-weight="normal" fill="#3a3a3a" stroke="#3a3a3a" stroke-width="0.06" text-anchor="start" textLength="19.4" lengthAdjust="spacingAndGlyphs">2950.0</text>
<line x1="715.0" y1="324.4" x2="717.0" y2="324.4" stroke="#e3e3e3" stroke-width="0.8"/>
<text x="721.6" y="344.6" font-family="Liberation Sans" font-size="6.4" font-weight="normal" fill="#3a3a3a" stroke="#3a3a3a" stroke-width="0.06" text-anchor="start" textLength="19.4" lengthAdjust="spacingAndGlyphs">2900.0</text>
<line x1="715.0" y1="341.9" x2="717.0" y2="341.9" stroke="#e3e3e3" stroke-width="0.8"/>
<text x="721.6" y="362.1" font-family="Liberation Sans" font-size="6.4" font-weight="normal" fill="#3a3a3a" stroke="#3a3a3a" stroke-width="0.06" text-anchor="start" textLength="19.4" lengthAdjust="spacingAndGlyphs">2850.0</text>
<line x1="715.0" y1="359.4" x2="717.0" y2="359.4" stroke="#e3e3e3" stroke-width="0.8"/>
<text x="721.6" y="379.7" font-family="Liberation Sans" font-size="6.4" font-weight="normal" fill="#3a3a3a" stroke="#3a3a3a" stroke-width="0.06" text-anchor="start" textLength="19.4" lengthAdjust="spacingAndGlyphs">2800.0</text>
<line x1="715.0" y1="377.0" x2="717.0" y2="377.0" stroke="#e3e3e3" stroke-width="0.8"/>
<text x="721.6" y="397.2" font-family="Liberation Sans" font-size="6.4" font-weight="normal" fill="#3a3a3a" stroke="#3a3a3a" stroke-width="0.06" text-anchor="start" textLength="19.4" lengthAdjust="spacingAndGlyphs">2750.0</text>
<line x1="715.0" y1="394.6" x2="717.0" y2="394.6" stroke="#e3e3e3" stroke-width="0.8"/>
<rect x="724.6" y="5.4" width="14.6" height="9.2" rx="2.5" fill="#fff" stroke="#d8d8d8" stroke-width="0.7"/>
<text x="726.7" y="12.3" font-family="Liberation Sans" font-size="6.2" font-weight="normal" fill="#333" stroke="#333" stroke-width="0.1" text-anchor="start" textLength="10.8" lengthAdjust="spacingAndGlyphs">USD</text>
<text x="721.6" y="12.3" font-family="Liberation Sans" font-size="6.2" font-weight="normal" fill="#555" stroke="#555" stroke-width="0.05" text-anchor="start" textLength="2.6" lengthAdjust="spacingAndGlyphs">2</text>
<rect x="716.1" y="122.9" width="28.5" height="9.5" fill="#e6434b"/>
<text x="721.2" y="130.1" font-family="Liberation Sans" font-size="7" font-weight="bold" fill="#fff" stroke="#fff" stroke-width="0" text-anchor="start" textLength="18.9" lengthAdjust="spacingAndGlyphs">3512.1</text>
<line x1="718.0" y1="127.6" x2="719.3" y2="127.6" stroke="#f6b0b4" stroke-width="0.8"/>
<line x1="3.5" y1="408.3" x2="747.5" y2="408.3" stroke="#484848" stroke-width="1"/>
<text x="10.0" y="419.7" font-family="Liberation Sans" font-size="6.4" font-weight="normal" fill="#222" stroke="#222" stroke-width="0.15" text-anchor="start" textLength="11.5" lengthAdjust="spacingAndGlyphs">May</text>
<text x="101.3" y="419.7" font-family="Liberation Sans" font-size="6.4" font-weight="normal" fill="#222" stroke="#222" stroke-width="0.15" text-anchor="start" textLength="10.2" lengthAdjust="spacingAndGlyphs">Jun</text>
<text x="150.7" y="419.7" font-family="Liberation Sans" font-size="6.0" font-weight="normal" fill="#222" stroke="#222" stroke-width="0.04" text-anchor="start" textLength="5.8" lengthAdjust="spacingAndGlyphs">16</text>
<text x="196.2" y="419.7" font-family="Liberation Sans" font-size="6.4" font-weight="normal" fill="#222" stroke="#222" stroke-width="0.15" text-anchor="start" textLength="8.8" lengthAdjust="spacingAndGlyphs">Jul</text>
<text x="244.6" y="419.7" font-family="Liberation Sans" font-size="6.0" font-weight="normal" fill="#222" stroke="#222" stroke-width="0.04" text-anchor="start" textLength="5.8" lengthAdjust="spacingAndGlyphs">16</text>
<text x="293.3" y="419.7" font-family="Liberation Sans" font-size="6.4" font-weight="normal" fill="#222" stroke="#222" stroke-width="0.15" text-anchor="start" textLength="11.7" lengthAdjust="spacingAndGlyphs">Aug</text>
<text x="383.8" y="419.7" font-family="Liberation Sans" font-size="6.4" font-weight="normal" fill="#222" stroke="#222" stroke-width="0.15" text-anchor="start" textLength="10.8" lengthAdjust="spacingAndGlyphs">Sep</text>
<text x="433.3" y="419.7" font-family="Liberation Sans" font-size="6.0" font-weight="normal" fill="#222" stroke="#222" stroke-width="0.04" text-anchor="start" textLength="5.8" lengthAdjust="spacingAndGlyphs">16</text>
<text x="478.6" y="419.7" font-family="Liberation Sans" font-size="6.4" font-weight="normal" fill="#222" stroke="#222" stroke-width="0.15" text-anchor="start" textLength="9.6" lengthAdjust="spacingAndGlyphs">Oct</text>
<text x="527.7" y="419.7" font-family="Liberation Sans" font-size="6.0" font-weight="normal" fill="#222" stroke="#222" stroke-width="0.04" text-anchor="start" textLength="6.0" lengthAdjust="spacingAndGlyphs">16</text>
<text x="572.1" y="419.7" font-family="Liberation Sans" font-size="6.4" font-weight="normal" fill="#222" stroke="#222" stroke-width="0.15" text-anchor="start" textLength="11.6" lengthAdjust="spacingAndGlyphs">Nov</text>
<text x="697.0" y="419.7" font-family="Liberation Sans" font-size="6.4" font-weight="normal" fill="#222" stroke="#222" stroke-width="0.15" text-anchor="start" textLength="10.5" lengthAdjust="spacingAndGlyphs">Dec</text>
<rect x="608" y="409" width="35" height="12.8" fill="#0a0a0a"/>
<text x="611.5" y="418.7" font-family="Liberation Sans" font-size="6.8" font-weight="normal" fill="#fff" stroke="#fff" stroke-width="0.12" text-anchor="start" textLength="28.6" lengthAdjust="spacingAndGlyphs">13 Nov '20</text>
<line x1="3.0" y1="0.6" x2="748.0" y2="0.6" stroke="#555555" stroke-width="1.3"/>
<line x1="3.0" y1="424.8" x2="747.7" y2="424.8" stroke="#555555" stroke-width="1.45"/>
<line x1="3.6" y1="0.0" x2="3.6" y2="425.4" stroke="#555555" stroke-width="1.1"/>
<line x1="747.1" y1="0.0" x2="747.1" y2="425.4" stroke="#5a5a5a" stroke-width="1.15"/>
<g fill="#3b8ad0"><circle cx="6.5" cy="436.8" r="3.25"/><circle cx="9.2" cy="434.6" r="3.7"/><circle cx="13.6" cy="435.3" r="3.3"/><circle cx="14.5" cy="437" r="3.1"/><rect x="6.4" y="435" width="8" height="5.1"/></g>
<polyline points="5.2,437.3 9.4,433.9 13,437.7 16,435.1" fill="none" stroke="#fff" stroke-width="1.25" stroke-linejoin="round"/>
<text x="19.0" y="438.0" font-family="Liberation Sans" font-size="6.8" font-weight="normal" fill="#333" stroke="#333" stroke-width="0.15" text-anchor="start" textLength="35.9" lengthAdjust="spacingAndGlyphs">TradingView</text>
<text x="0.8" y="488.2" style="font-family:'Liberation Serif',serif" font-size="12.9" font-weight="normal" fill="#0a0a0a" stroke="#0a0a0a" stroke-width="0.18" text-anchor="start" textLength="145.3" lengthAdjust="spacingAndGlyphs">Chart IV: SPX 9-point chart</text>
</svg>
</body></html>
